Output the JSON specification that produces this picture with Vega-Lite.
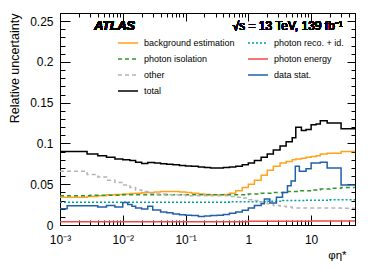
{
  "$schema": "https://vega.github.io/schema/vega-lite/v6.json",
  "width": 295,
  "height": 212,
  "autosize": "none",
  "padding": {"left": 60, "top": 13, "right": 19, "bottom": 44},
  "background": "white",
  "config": {
    "font": "Liberation Sans",
    "view": {"stroke": "black", "strokeWidth": 1},
    "axis": {"domainColor": "black", "tickColor": "black", "labelColor": "black", "titleColor": "black", "grid": false, "labelFont": "Liberation Sans", "titleFont": "Liberation Sans", "labelFontSize": 12, "titleFontSize": 12.5, "titleFontWeight": "normal"},
    "legend": {"orient": "none", "legendX": 57, "legendY": 19, "columns": 2, "columnPadding": 10, "rowPadding": 0, "symbolType": "stroke", "symbolSize": 400, "symbolStrokeWidth": 1.5, "labelFontSize": 9, "labelFont": "Liberation Sans", "labelOffset": 5, "padding": 0, "title": null, "labelColor": "black", "labelLimit": 200}
  },
  "data": {"values": [
    {"s": "background estimation", "x": 0.001, "y": 0.034},
    {"s": "background estimation", "x": 0.0027, "y": 0.035},
    {"s": "background estimation", "x": 0.004, "y": 0.036},
    {"s": "background estimation", "x": 0.0055, "y": 0.037},
    {"s": "background estimation", "x": 0.0075, "y": 0.0375},
    {"s": "background estimation", "x": 0.01, "y": 0.038},
    {"s": "background estimation", "x": 0.013, "y": 0.0385},
    {"s": "background estimation", "x": 0.016, "y": 0.039},
    {"s": "background estimation", "x": 0.02, "y": 0.0395},
    {"s": "background estimation", "x": 0.025, "y": 0.04},
    {"s": "background estimation", "x": 0.032, "y": 0.0405},
    {"s": "background estimation", "x": 0.04, "y": 0.041},
    {"s": "background estimation", "x": 0.063, "y": 0.041},
    {"s": "background estimation", "x": 0.08, "y": 0.0405},
    {"s": "background estimation", "x": 0.1, "y": 0.04},
    {"s": "background estimation", "x": 0.125, "y": 0.039},
    {"s": "background estimation", "x": 0.16, "y": 0.038},
    {"s": "background estimation", "x": 0.2, "y": 0.0375},
    {"s": "background estimation", "x": 0.25, "y": 0.037},
    {"s": "background estimation", "x": 0.4, "y": 0.0375},
    {"s": "background estimation", "x": 0.5, "y": 0.039},
    {"s": "background estimation", "x": 0.63, "y": 0.042},
    {"s": "background estimation", "x": 0.8, "y": 0.046},
    {"s": "background estimation", "x": 1.0, "y": 0.05},
    {"s": "background estimation", "x": 1.25, "y": 0.055},
    {"s": "background estimation", "x": 1.6, "y": 0.061},
    {"s": "background estimation", "x": 2.0, "y": 0.067},
    {"s": "background estimation", "x": 2.5, "y": 0.072},
    {"s": "background estimation", "x": 3.2, "y": 0.076},
    {"s": "background estimation", "x": 4.0, "y": 0.078},
    {"s": "background estimation", "x": 5.0, "y": 0.08},
    {"s": "background estimation", "x": 5.7, "y": 0.081},
    {"s": "background estimation", "x": 7.0, "y": 0.082},
    {"s": "background estimation", "x": 8.3, "y": 0.083},
    {"s": "background estimation", "x": 10, "y": 0.084},
    {"s": "background estimation", "x": 12, "y": 0.085},
    {"s": "background estimation", "x": 14, "y": 0.087},
    {"s": "background estimation", "x": 18, "y": 0.088},
    {"s": "background estimation", "x": 30, "y": 0.09},
    {"s": "background estimation", "x": 50, "y": 0.09},

    {"s": "photon reco. + id.", "x": 0.001, "y": 0.028},
    {"s": "photon reco. + id.", "x": 0.5, "y": 0.0285},
    {"s": "photon reco. + id.", "x": 2, "y": 0.029},
    {"s": "photon reco. + id.", "x": 3.5, "y": 0.03},
    {"s": "photon reco. + id.", "x": 8, "y": 0.0305},
    {"s": "photon reco. + id.", "x": 20, "y": 0.031},
    {"s": "photon reco. + id.", "x": 50, "y": 0.031},

    {"s": "photon isolation", "x": 0.001, "y": 0.036},
    {"s": "photon isolation", "x": 0.003, "y": 0.0365},
    {"s": "photon isolation", "x": 0.01, "y": 0.037},
    {"s": "photon isolation", "x": 1, "y": 0.038},
    {"s": "photon isolation", "x": 1.6, "y": 0.039},
    {"s": "photon isolation", "x": 2.5, "y": 0.04},
    {"s": "photon isolation", "x": 4, "y": 0.041},
    {"s": "photon isolation", "x": 6, "y": 0.042},
    {"s": "photon isolation", "x": 10, "y": 0.043},
    {"s": "photon isolation", "x": 14, "y": 0.044},
    {"s": "photon isolation", "x": 20, "y": 0.045},
    {"s": "photon isolation", "x": 30, "y": 0.046},
    {"s": "photon isolation", "x": 50, "y": 0.046},

    {"s": "photon energy", "x": 0.001, "y": 0.004},
    {"s": "photon energy", "x": 1, "y": 0.0045},
    {"s": "photon energy", "x": 10, "y": 0.005},
    {"s": "photon energy", "x": 50, "y": 0.005},

    {"s": "other", "x": 0.001, "y": 0.066},
    {"s": "other", "x": 0.0027, "y": 0.062},
    {"s": "other", "x": 0.004, "y": 0.059},
    {"s": "other", "x": 0.0055, "y": 0.055},
    {"s": "other", "x": 0.0075, "y": 0.052},
    {"s": "other", "x": 0.01, "y": 0.049},
    {"s": "other", "x": 0.013, "y": 0.046},
    {"s": "other", "x": 0.016, "y": 0.043},
    {"s": "other", "x": 0.02, "y": 0.041},
    {"s": "other", "x": 0.025, "y": 0.039},
    {"s": "other", "x": 0.032, "y": 0.038},
    {"s": "other", "x": 0.05, "y": 0.037},
    {"s": "other", "x": 0.1, "y": 0.036},
    {"s": "other", "x": 0.5, "y": 0.035},
    {"s": "other", "x": 0.63, "y": 0.034},
    {"s": "other", "x": 0.8, "y": 0.033},
    {"s": "other", "x": 1.0, "y": 0.031},
    {"s": "other", "x": 1.25, "y": 0.03},
    {"s": "other", "x": 1.6, "y": 0.028},
    {"s": "other", "x": 2.0, "y": 0.026},
    {"s": "other", "x": 2.5, "y": 0.024},
    {"s": "other", "x": 3.2, "y": 0.023},
    {"s": "other", "x": 4.0, "y": 0.022},
    {"s": "other", "x": 5.0, "y": 0.021},
    {"s": "other", "x": 30, "y": 0.0205},
    {"s": "other", "x": 50, "y": 0.0205},

    {"s": "data stat.", "x": 0.001, "y": 0.02},
    {"s": "data stat.", "x": 0.0013, "y": 0.0235},
    {"s": "data stat.", "x": 0.004, "y": 0.022},
    {"s": "data stat.", "x": 0.0055, "y": 0.0238},
    {"s": "data stat.", "x": 0.0075, "y": 0.022},
    {"s": "data stat.", "x": 0.01, "y": 0.0275},
    {"s": "data stat.", "x": 0.012, "y": 0.025},
    {"s": "data stat.", "x": 0.014, "y": 0.023},
    {"s": "data stat.", "x": 0.016, "y": 0.021},
    {"s": "data stat.", "x": 0.02, "y": 0.0195},
    {"s": "data stat.", "x": 0.025, "y": 0.023},
    {"s": "data stat.", "x": 0.03, "y": 0.0185},
    {"s": "data stat.", "x": 0.04, "y": 0.016},
    {"s": "data stat.", "x": 0.05, "y": 0.015},
    {"s": "data stat.", "x": 0.063, "y": 0.0135},
    {"s": "data stat.", "x": 0.08, "y": 0.0125},
    {"s": "data stat.", "x": 0.1, "y": 0.012},
    {"s": "data stat.", "x": 0.125, "y": 0.0115},
    {"s": "data stat.", "x": 0.16, "y": 0.0105},
    {"s": "data stat.", "x": 0.2, "y": 0.011},
    {"s": "data stat.", "x": 0.25, "y": 0.0115},
    {"s": "data stat.", "x": 0.32, "y": 0.012},
    {"s": "data stat.", "x": 0.4, "y": 0.013},
    {"s": "data stat.", "x": 0.5, "y": 0.0145},
    {"s": "data stat.", "x": 0.63, "y": 0.016},
    {"s": "data stat.", "x": 0.8, "y": 0.018},
    {"s": "data stat.", "x": 1.0, "y": 0.021},
    {"s": "data stat.", "x": 1.25, "y": 0.024},
    {"s": "data stat.", "x": 1.6, "y": 0.026},
    {"s": "data stat.", "x": 1.8, "y": 0.032},
    {"s": "data stat.", "x": 2.2, "y": 0.027},
    {"s": "data stat.", "x": 2.8, "y": 0.034},
    {"s": "data stat.", "x": 3.5, "y": 0.04},
    {"s": "data stat.", "x": 4.2, "y": 0.048},
    {"s": "data stat.", "x": 4.8, "y": 0.054},
    {"s": "data stat.", "x": 5.6, "y": 0.072},
    {"s": "data stat.", "x": 6.5, "y": 0.066},
    {"s": "data stat.", "x": 8.3, "y": 0.069},
    {"s": "data stat.", "x": 10, "y": 0.076},
    {"s": "data stat.", "x": 14, "y": 0.077},
    {"s": "data stat.", "x": 18, "y": 0.07},
    {"s": "data stat.", "x": 30, "y": 0.049},
    {"s": "data stat.", "x": 50, "y": 0.049},

    {"s": "total", "x": 0.001, "y": 0.09},
    {"s": "total", "x": 0.0027, "y": 0.087},
    {"s": "total", "x": 0.004, "y": 0.085},
    {"s": "total", "x": 0.0055, "y": 0.083},
    {"s": "total", "x": 0.0075, "y": 0.081},
    {"s": "total", "x": 0.01, "y": 0.08},
    {"s": "total", "x": 0.013, "y": 0.079},
    {"s": "total", "x": 0.016, "y": 0.077},
    {"s": "total", "x": 0.02, "y": 0.0755},
    {"s": "total", "x": 0.025, "y": 0.0765},
    {"s": "total", "x": 0.032, "y": 0.076},
    {"s": "total", "x": 0.04, "y": 0.075},
    {"s": "total", "x": 0.05, "y": 0.0745},
    {"s": "total", "x": 0.063, "y": 0.074},
    {"s": "total", "x": 0.08, "y": 0.073},
    {"s": "total", "x": 0.1, "y": 0.0725},
    {"s": "total", "x": 0.125, "y": 0.072},
    {"s": "total", "x": 0.16, "y": 0.071},
    {"s": "total", "x": 0.2, "y": 0.0705},
    {"s": "total", "x": 0.25, "y": 0.07},
    {"s": "total", "x": 0.4, "y": 0.0705},
    {"s": "total", "x": 0.5, "y": 0.071},
    {"s": "total", "x": 0.63, "y": 0.072},
    {"s": "total", "x": 0.8, "y": 0.074},
    {"s": "total", "x": 1.0, "y": 0.076},
    {"s": "total", "x": 1.25, "y": 0.079},
    {"s": "total", "x": 1.6, "y": 0.083},
    {"s": "total", "x": 2.0, "y": 0.087},
    {"s": "total", "x": 2.5, "y": 0.092},
    {"s": "total", "x": 3.2, "y": 0.097},
    {"s": "total", "x": 4.0, "y": 0.102},
    {"s": "total", "x": 5.0, "y": 0.107},
    {"s": "total", "x": 5.7, "y": 0.12},
    {"s": "total", "x": 7.0, "y": 0.116},
    {"s": "total", "x": 8.3, "y": 0.117},
    {"s": "total", "x": 10, "y": 0.123},
    {"s": "total", "x": 12, "y": 0.124},
    {"s": "total", "x": 14, "y": 0.128},
    {"s": "total", "x": 18, "y": 0.125},
    {"s": "total", "x": 30, "y": 0.118},
    {"s": "total", "x": 50, "y": 0.118}
  ]},
  "resolve": {"axis": {"x": "independent", "y": "independent"}},
  "layer": [
    {
      "mark": {"type": "line", "interpolate": "step-after", "strokeWidth": 1.5, "clip": true},
      "encoding": {
        "x": {"field": "x", "type": "quantitative",
          "scale": {"type": "log", "domain": [0.001, 50], "nice": false},
          "axis": {"orient": "bottom", "title": "φη*", "titleX": 286, "titleY": 30, "titleAlign": "right", "titleBaseline": "middle", "titleFontSize": 11.5,
            "values": [0.001,0.002,0.003,0.004,0.005,0.006,0.007,0.008,0.009,0.01,0.02,0.03,0.04,0.05,0.06,0.07,0.08,0.09,0.1,0.2,0.3,0.4,0.5,0.6,0.7,0.8,0.9,1,2,3,4,5,6,7,8,9,10,20,30,40],
            "labelExpr": "datum.value == 0.001 ? '10⁻³' : datum.value == 0.01 ? '10⁻²' : datum.value == 0.1 ? '10⁻¹' : datum.value == 1 ? '1' : datum.value == 10 ? '10' : ''",
            "tickSize": {"condition": {"test": "indexof([0.001,0.01,0.1,1,10], datum.value) >= 0", "value": -10}, "value": -5},
            "labelPadding": 19, "labelFlush": false, "labelOverlap": false}},
        "y": {"field": "y", "type": "quantitative",
          "scale": {"domain": [0, 0.26], "nice": false, "zero": true},
          "axis": {"orient": "left", "title": "Relative uncertainty", "titleAnchor": "end", "titlePadding": 8,
            "values": [0,0.01,0.02,0.03,0.04,0.05,0.06,0.07,0.08,0.09,0.1,0.11,0.12,0.13,0.14,0.15,0.16,0.17,0.18,0.19,0.2,0.21,0.22,0.23,0.24,0.25,0.26],
            "labelExpr": "indexof([0,0.05,0.1,0.15,0.2,0.25], datum.value) >= 0 ? format(datum.value, '~g') : ''",
            "tickSize": {"condition": {"test": "indexof([0,0.05,0.1,0.15,0.2,0.25], datum.value) >= 0", "value": -10}, "value": -5},
            "labelPadding": 17, "labelOverlap": false}},
        "color": {"field": "s", "type": "nominal",
          "scale": {"domain": ["background estimation","photon isolation","other","total","photon reco. + id.","photon energy","data stat."],
                    "range": ["#ffa31a","#2e962e","#b4b4b4","#000000","#00a0a0","#f04848","#2060a8"]}},
        "strokeDash": {"field": "s", "type": "nominal",
          "scale": {"domain": ["background estimation","photon isolation","other","total","photon reco. + id.","photon energy","data stat."],
                    "range": [[1,0],[4,3],[4,3],[1,0],[2,2],[1,0],[1,0]]}}
      }
    },
    {
      "mark": {"type": "text", "text": "ATLAS", "font": "Liberation Sans", "fontWeight": "bold", "fontStyle": "italic", "fontSize": 12.5, "align": "left", "baseline": "middle", "color": "black"},
      "encoding": {
        "x": {"datum": 0.0035, "type": "quantitative", "scale": {"type": "log", "domain": [0.001, 50], "nice": false},
          "axis": {"orient": "top", "title": null, "labels": false,
            "values": [0.001,0.002,0.003,0.004,0.005,0.006,0.007,0.008,0.009,0.01,0.02,0.03,0.04,0.05,0.06,0.07,0.08,0.09,0.1,0.2,0.3,0.4,0.5,0.6,0.7,0.8,0.9,1,2,3,4,5,6,7,8,9,10,20,30,40],
            "tickSize": {"condition": {"test": "indexof([0.001,0.01,0.1,1,10], datum.value) >= 0", "value": -8}, "value": -4}}},
        "y": {"datum": 0.2435, "type": "quantitative", "scale": {"domain": [0, 0.26], "nice": false},
          "axis": {"orient": "right", "title": null, "labels": false,
            "values": [0,0.01,0.02,0.03,0.04,0.05,0.06,0.07,0.08,0.09,0.1,0.11,0.12,0.13,0.14,0.15,0.16,0.17,0.18,0.19,0.2,0.21,0.22,0.23,0.24,0.25,0.26],
            "tickSize": {"condition": {"test": "indexof([0,0.05,0.1,0.15,0.2,0.25], datum.value) >= 0", "value": -8}, "value": -4}}}
      }
    },
    {
      "mark": {"type": "text", "text": "√s = 13 TeV, 139 fb⁻¹", "font": "Liberation Sans", "fontSize": 12, "align": "right", "baseline": "middle", "color": "black"},
      "encoding": {
        "x": {"datum": 32, "type": "quantitative", "axis": null},
        "y": {"datum": 0.2435, "type": "quantitative", "axis": null}
      }
    }
  ]
}
